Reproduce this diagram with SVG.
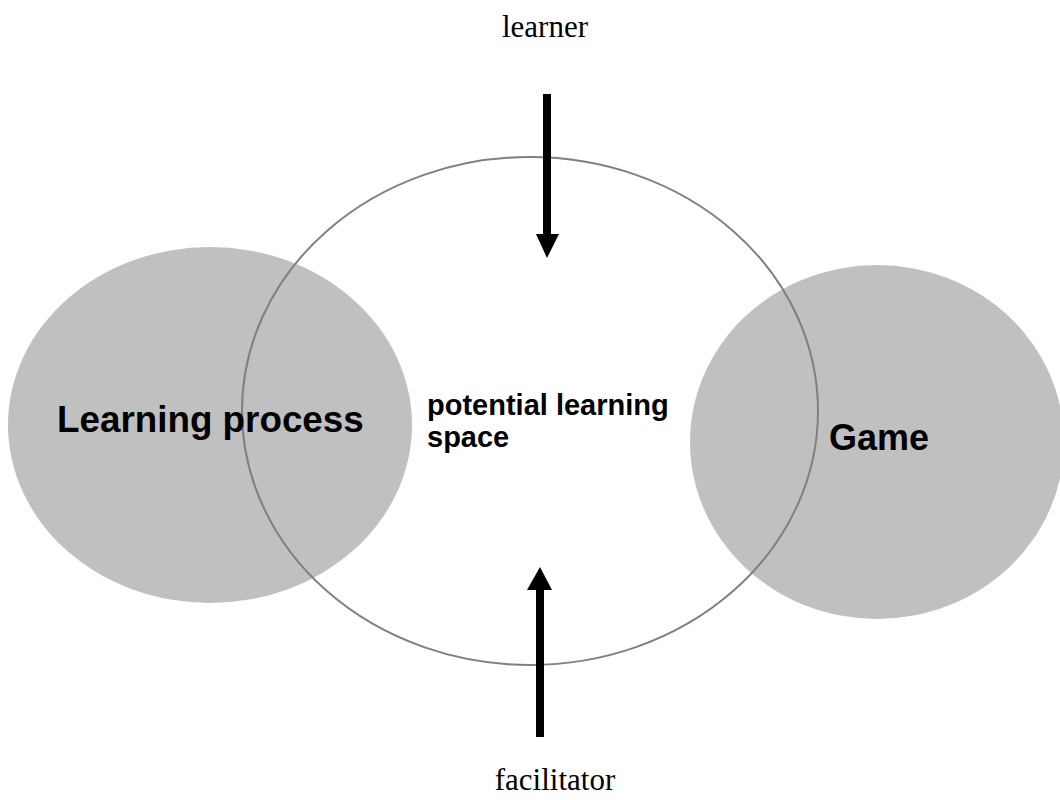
<svg xmlns="http://www.w3.org/2000/svg" width="1060" height="800" viewBox="0 0 1060 800">
<style>
.blob{fill:#c0c0c0;stroke:none}
.space{fill:none;stroke:#808080;stroke-width:2}
.lbl{font-family:"Liberation Sans",Arial,sans-serif;font-weight:bold;fill:#000}
.ser{font-family:"Liberation Serif","Times New Roman",serif;font-size:31px;fill:#000}
.arr{stroke:#000;stroke-width:8;fill:none}
.head{fill:#000}
</style>
<rect width="1060" height="800" fill="#fff"/>
<g id="learning-process">
<ellipse class="blob" cx="210" cy="425" rx="202" ry="178"/>
</g>
<g id="game">
<ellipse class="blob" cx="877" cy="442" rx="187" ry="177"/>
</g>
<g id="potential-learning-space">
<ellipse class="space" cx="530" cy="411" rx="288" ry="254"/>
<text class="lbl" x="427" y="415" font-size="29">potential learning</text>
<text class="lbl" x="427" y="447" font-size="29">space</text>
</g>
<text class="lbl" x="57" y="432" font-size="36.8">Learning process</text>
<text class="lbl" x="829" y="450" font-size="36">Game</text>
<g id="learner">
<text class="ser" x="545" y="37" text-anchor="middle">learner</text>
</g>
<g id="facilitator">
<text class="ser" x="555" y="790" text-anchor="middle">facilitator</text>
</g>
<g id="connectors">
<line class="arr" x1="547" y1="94" x2="547" y2="236"/>
<polygon class="head" points="536,234 559,234 547,258"/>
<line class="arr" x1="540" y1="737" x2="540" y2="588"/>
<polygon class="head" points="527,590 552,590 540,567"/>
</g>
</svg>
